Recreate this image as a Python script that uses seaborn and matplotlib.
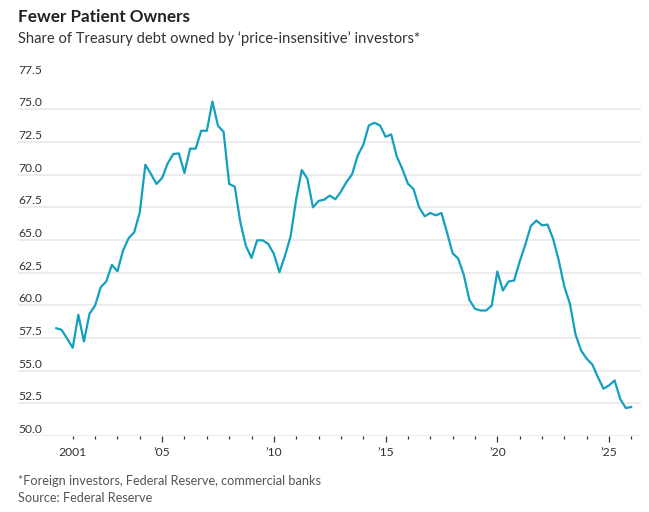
import numpy as np
import pandas as pd
import matplotlib
matplotlib.use('Agg')
from matplotlib import pyplot as plt
import matplotlib.transforms as mtransforms
import seaborn as sns

# quarterly share of Treasury debt held by price-insensitive investors (%)
share = [58.25, 58.12, 57.45, 56.75, 59.27, 57.23, 59.35, 59.98, 61.38, 61.82,
         63.09, 62.60, 64.18, 65.13, 65.58, 67.11, 70.75, 70.04, 69.28, 69.74,
         70.86, 71.57, 71.62, 70.12, 71.98, 71.98, 73.35, 73.35, 75.59, 73.73,
         73.27, 69.28, 69.07, 66.35, 64.54, 63.62, 64.97, 64.97, 64.69, 63.93,
         62.53, 63.80, 65.28, 68.13, 70.35, 69.68, 67.49, 67.98, 68.08, 68.39,
         68.11, 68.69, 69.43, 70.02, 71.44, 72.26, 73.76, 73.96, 73.76, 72.89,
         73.07, 71.39, 70.42, 69.30, 68.89, 67.49, 66.81, 67.06, 66.88, 67.06,
         65.56, 63.98, 63.57, 62.32, 60.41, 59.73, 59.60, 59.60, 59.98, 62.58,
         61.13, 61.82, 61.89, 63.34, 64.62, 66.07, 66.48, 66.12, 66.17, 65.07,
         63.42, 61.43, 60.11, 57.77, 56.54, 55.91, 55.47, 54.51, 53.62, 53.87,
         54.25, 52.83, 52.14, 52.22]

periods = pd.period_range('2000Q1', periods=len(share), freq='Q')
df = pd.DataFrame({'date': periods.year + periods.quarter / 4, 'share': share})

y_ticks = [50.0, 52.5, 55.0, 57.5, 60.0, 62.5, 65.0, 67.5, 70.0, 72.5, 75.0, 77.5]
x_major = [2001, 2005, 2010, 2015, 2020, 2025]
x_labels = ['2001', '\u201905', '\u201910', '\u201915', '\u201920', '\u201925']
x_minor = list(range(2001, 2027))

title = 'Fewer Patient Owners'
subtitle = 'Share of Treasury debt owned by \u2018price-insensitive\u2019 investors*'
note = '*Foreign investors, Federal Reserve, commercial banks'
source = 'Source: Federal Reserve'

sns.set_theme(style='white')
plt.rcParams['font.family'] = ['Lato', 'DejaVu Sans']

W, H = 649, 512
fig = plt.figure(figsize=(W / 100, H / 100), dpi=100)
ax = fig.add_axes([18 / W, (H - 436) / H, (641 - 18) / W, (436 - 76.5) / H])

sns.lineplot(data=df, x='date', y='share', color='#12a0bf', lw=1.6, ax=ax, clip_on=False)

ax.set_xlim(1998.55, 2026.43)
ax.set_ylim(50, 77.5)
ax.set_yticks(y_ticks)
ax.yaxis.grid(True, color='#ebebeb', lw=1.3)
ax.set_axisbelow(True)
ax.tick_params(axis='y', length=0, labelleft=False)

ax.set_xticks(x_major)
ax.set_xticklabels(x_labels)
ax.set_xticks(x_minor, minor=True)
ax.tick_params(axis='x', which='major', length=4, width=0.9, color='#333333',
               labelsize=8.7, labelcolor='#333333', pad=4, direction='out', bottom=True)
ax.tick_params(axis='x', which='minor', length=2.2, width=0.9, color='#333333',
               direction='out', bottom=True)
ax.xaxis.get_major_ticks()[0].tick1line.set_markersize(2.2)

for s in ax.spines.values():
    s.set_visible(False)
ax.set_xlabel('')
ax.set_ylabel('')

trans = mtransforms.blended_transform_factory(ax.transAxes, ax.transData)
off = mtransforms.ScaledTranslation(0, 3 / 100, fig.dpi_scale_trans)
for v in y_ticks:
    ax.text(0, v, f'{v:.1f}', transform=trans + off, ha='left', va='baseline',
            fontsize=8.7, color='#333333')

fig.text(18 / W, 1 - 22.3 / H, title, fontsize=12.3, fontweight='bold',
         color='#222222', ha='left', va='baseline')
fig.text(18 / W, 1 - 43.3 / H, subtitle, fontsize=10.6, color='#333333',
         ha='left', va='baseline')
fig.text(18 / W, 1 - 485 / H, note, fontsize=9.2, color='#555555',
         ha='left', va='baseline')
fig.text(18 / W, 1 - 502 / H, source, fontsize=9.2, color='#555555',
         ha='left', va='baseline')

fig.savefig('out.png', dpi=100)
